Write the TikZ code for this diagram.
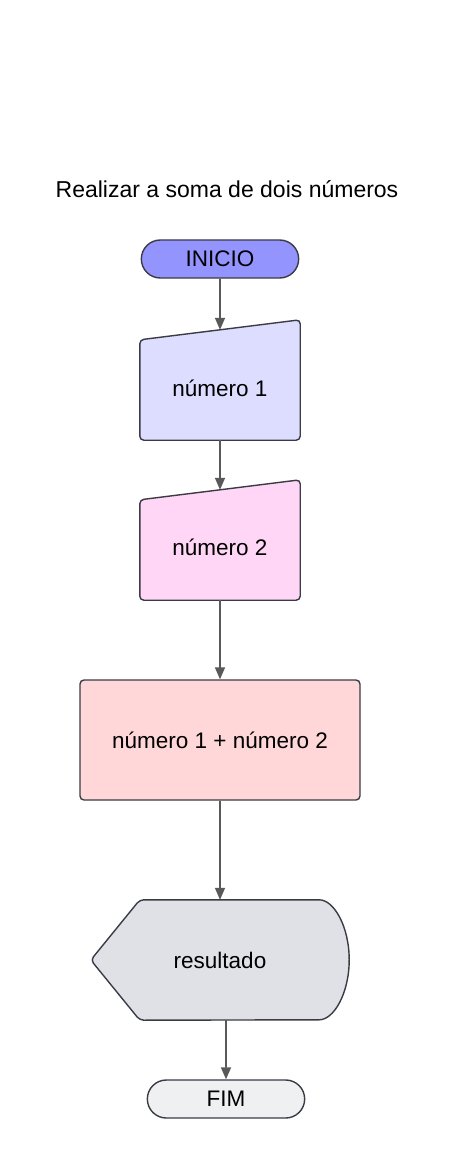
\documentclass[tikz,border=0pt]{standalone}
\usepackage{fontspec}
\setmainfont{Liberation Sans}
\usetikzlibrary{shapes.misc, arrows.meta, positioning, backgrounds}
\definecolor{edgegray}{HTML}{3B3B45}
\definecolor{arrowgray}{HTML}{595959}
\definecolor{startfill}{HTML}{9494FF}
\definecolor{inputonefill}{HTML}{DDDDFF}
\definecolor{inputtwofill}{HTML}{FFD6F6}
\definecolor{processfill}{HTML}{FFD7D9}
\definecolor{displayfill}{HTML}{DFE1E6}
\definecolor{endfill}{HTML}{EFF0F2}
\tikzstyle{flowchartbox} = [text centered, minimum width=160pt, font=\fontsize{22.5}{27}\selectfont]
\tikzstyle{terminal} = [flowchartbox, rounded rectangle, draw=edgegray, line width=1.4pt, minimum width=164pt, minimum height=38pt]
\tikzstyle{process} = [flowchartbox, rectangle, draw=edgegray, line width=1.4pt, rounded corners=4pt, minimum width=280pt, minimum height=120pt]
\tikzstyle{io} = [flowchartbox, rectangle, minimum height=110pt]
\tikzstyle{display} = [flowchartbox, rectangle, minimum width=258pt, minimum height=120pt]
\tikzstyle{outline} = [draw=edgegray, line width=1.4pt, rounded corners=4pt]
\tikzstyle{flowchartarrow} = [-{Triangle[length=12pt,width=10pt]}, draw=arrowgray, fill=arrowgray, line width=1.6pt]
\begin{document}
\begin{tikzpicture}[x=1pt, y=-1pt]
		\useasboundingbox (0,0) rectangle (454,1158);
		\node (title) [font=\fontsize{23}{27}\selectfont] at (227,189) {Realizar a soma de dois números};
		\node (inicio) [terminal, fill=startfill] at (220,259) {INICIO};
		\node (num1) [io, node distance=126pt, below of=inicio, yshift=-3pt] {número 1};
		\node (num2) [io, node distance=160pt, below of=num1, yshift=1pt] {número 2};
		\node (soma) [process, fill=processfill, node distance=195pt, below of=num2, yshift=2pt] {número 1 + número 2};
		\node (res) [display, node distance=220pt, below of=soma] {resultado};
		\node (fim) [terminal, fill=endfill, node distance=139pt, below of=res, xshift=6pt] {FIM};
		\begin{scope}[on background layer]
		\fill [white] (0,0) rectangle (454,1158);
		\draw [outline, fill=inputonefill] ([yshift=-7pt]num1.north west) -- ([yshift=13pt]num1.north east) -- ([yshift=3pt]num1.south east) -- ([yshift=3pt]num1.south west) -- cycle;
		\draw [outline, fill=inputtwofill] ([yshift=-8pt]num2.north west) -- ([yshift=12pt]num2.north east) -- ([yshift=2pt]num2.south east) -- ([yshift=2pt]num2.south west) -- cycle;
		\draw [outline, fill=displayfill] (res.west) -- ([xshift=49pt]res.north west) -- ([xshift=-34pt]res.north east)
		arc [start angle=90, end angle=-90, x radius=34pt, y radius=60pt] -- ([xshift=49pt]res.south west) -- cycle;
		\end{scope}
		\draw [flowchartarrow] (inicio) -- ([yshift=3pt]num1.north);
		\draw [flowchartarrow] ([yshift=3pt]num1.south) -- ([yshift=2pt]num2.north);
		\draw [flowchartarrow] ([yshift=2pt]num2.south) -- (soma);
		\draw [flowchartarrow] (soma) -- (res);
		\draw [flowchartarrow] (res.south -| fim) -- (fim);
	\end{tikzpicture}
\end{document}
